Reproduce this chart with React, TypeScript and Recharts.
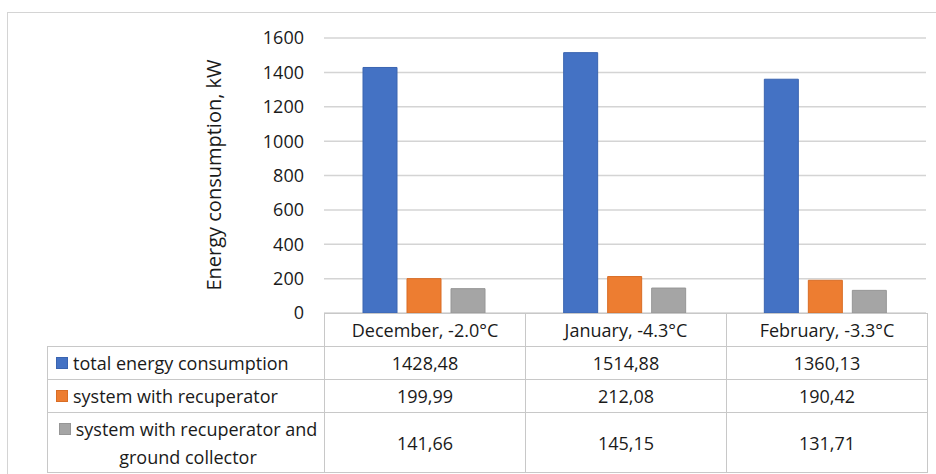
import React from "react";
import { BarChart, Bar, XAxis, YAxis, CartesianGrid } from "recharts";

// months with mean outdoor temperature
const months = ["December, -2.0°C", "January, -4.3°C", "February, -3.3°C"];
const totalEnergy = [1428.48, 1514.88, 1360.13];
const withRecuperator = [199.99, 212.08, 190.42];
const withRecuperatorGround = [141.66, 145.15, 131.71];
const yTicks = [0, 200, 400, 600, 800, 1000, 1200, 1400, 1600];

const seriesKeys = ["total", "recup", "ground"];
const seriesNames = [
  "total energy consumption",
  "system with recuperator",
  "system with recuperator and ground collector",
];
const seriesValues = [totalEnergy, withRecuperator, withRecuperatorGround];
const seriesColors = ["#4472C4", "#ED7D31", "#A5A5A5"];
const seriesStrokes = ["#3a64b0", "#d96d25", "#969696"];

const chartData = months.map((m, i) => ({
  month: m,
  total: totalEnergy[i],
  recup: withRecuperator[i],
  ground: withRecuperatorGround[i],
}));

const FONT = "'Open Sans', 'Noto Sans', sans-serif";
const GRID = "#d4d4d4";
const TABLE_BORDER = "#c8c8c8";

const fmt = (v: number) => v.toFixed(2).replace(".", ",");

const cellBorder = `1px solid ${TABLE_BORDER}`;

const DataTable = () => {
  const rowHeights = [33, 33, 60];
  return (
    <table
      style={{
        position: "absolute",
        left: 47,
        top: 313,
        borderCollapse: "collapse",
        tableLayout: "fixed",
        fontFamily: FONT,
        fontSize: 18,
        color: "#1a1a1a",
      }}
    >
      <colgroup>
        <col style={{ width: 277 }} />
        {months.map((m) => (
          <col key={m} style={{ width: 201 }} />
        ))}
      </colgroup>
      <tbody>
        <tr style={{ height: 33 }}>
          <td style={{ borderRight: cellBorder }} />
          {months.map((m) => (
            <td key={m} style={{ border: cellBorder, textAlign: "center", padding: 0 }}>
              {m}
            </td>
          ))}
        </tr>
        {seriesNames.map((name, si) => (
          <tr key={name} style={{ height: rowHeights[si] }}>
            <td
              style={{
                border: cellBorder,
                padding: "0 4px 0 8px",
                textAlign: si === 2 ? "center" : "left",
                lineHeight: "28px",
                whiteSpace: si === 2 ? "normal" : "nowrap",
              }}
            >
              <span
                style={{
                  display: "inline-block",
                  width: 10,
                  height: 10,
                  background: seriesColors[si],
                  border: `1px solid ${seriesStrokes[si]}`,
                  marginRight: 5,
                  verticalAlign: "middle",
                  position: "relative",
                  top: -2,
                }}
              />
              {name}
            </td>
            {seriesValues[si].map((v, ci) => (
              <td key={ci} style={{ border: cellBorder, textAlign: "center", padding: 0 }}>
                {fmt(v)}
              </td>
            ))}
          </tr>
        ))}
      </tbody>
    </table>
  );
};

export default function App() {
  return (
    <div style={{ position: "absolute", left: 0, top: 0, width: 936, height: 474, background: "#fff" }}>
      {/* outer chart frame */}
      <div
        style={{
          position: "absolute",
          left: 7,
          top: 12,
          width: 940,
          height: 470,
          border: `1px solid ${GRID}`,
        }}
      />
      <BarChart
        width={936}
        height={474}
        data={chartData}
        margin={{ top: 38, right: 10, bottom: 161, left: 264 }}
        barGap={10}
        barSize={34}
        style={{ position: "absolute", left: 0, top: 0 }}
      >
        <CartesianGrid vertical={false} stroke={GRID} strokeWidth={1.5} />
        <XAxis dataKey="month" hide />
        <YAxis
          width={60}
          domain={[0, 1600]}
          ticks={yTicks}
          interval={0}
          axisLine={false}
          tickLine={false}
          tickMargin={14}
          tick={{ fill: "#1a1a1a", fontSize: 18, fontFamily: FONT }}
        />
        {seriesKeys.map((k, i) => (
          <Bar
            key={k}
            dataKey={k}
            name={seriesNames[i]}
            fill={seriesColors[i]}
            stroke={seriesStrokes[i]}
            strokeWidth={1}
            isAnimationActive={false}
          />
        ))}
        <text
          x={213}
          y={175}
          transform="rotate(-90 213 175)"
          textAnchor="middle"
          dominantBaseline="central"
          fontFamily={FONT}
          fontSize={20}
          fill="#1a1a1a"
        >
          Energy consumption, kW
        </text>
      </BarChart>
      <DataTable />
    </div>
  );
}
